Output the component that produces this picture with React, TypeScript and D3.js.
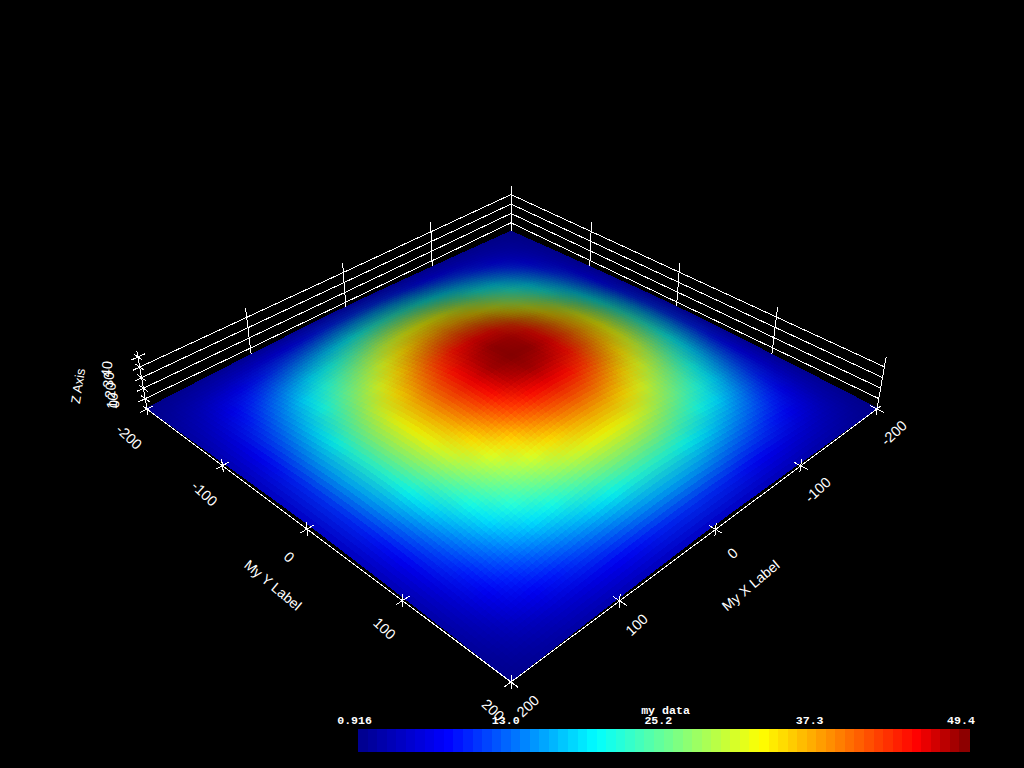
import React, { useMemo } from "react";
import * as d3 from "d3";

// Surface values, rows follow x = -200..200, columns y = -200..200 (step 20)
const gridX = [-200,-180,-160,-140,-120,-100,-80,-60,-40,-20,0,20,40,60,80,100,120,140,160,180,200];
const gridY = gridX;
const surfaceValues = [
[0.916,1.4,2.0,2.6,3.1,3.6,4.1,4.5,4.9,5.2,5.3,5.2,4.9,4.5,4.1,3.6,3.1,2.6,2.0,1.4,0.916],
[1.4,2.4,3.5,4.7,5.8,6.9,7.8,8.6,9.5,10.0,10.2,10.0,9.5,8.6,7.8,6.9,5.8,4.7,3.5,2.4,1.4],
[2.0,3.5,5.4,7.3,9.1,10.8,12.2,13.6,14.9,15.8,16.1,15.8,14.9,13.6,12.2,10.8,9.1,7.3,5.4,3.5,2.0],
[2.6,4.7,7.3,9.9,12.4,14.6,16.6,18.5,20.3,21.5,22.0,21.5,20.3,18.5,16.6,14.6,12.4,9.9,7.3,4.7,2.6],
[3.1,5.8,9.1,12.4,15.5,18.4,20.8,23.2,25.6,27.1,27.6,27.1,25.6,23.2,20.8,18.4,15.5,12.4,9.1,5.8,3.1],
[3.6,6.9,10.8,14.6,18.4,21.7,24.7,27.6,30.3,32.1,32.7,32.1,30.3,27.6,24.7,21.7,18.4,14.6,10.8,6.9,3.6],
[4.1,7.8,12.2,16.6,20.8,24.7,28.0,31.3,34.4,36.4,37.2,36.4,34.4,31.3,28.0,24.7,20.8,16.6,12.2,7.8,4.1],
[4.5,8.6,13.6,18.5,23.2,27.6,31.3,35.0,38.5,40.7,41.6,40.7,38.5,35.0,31.3,27.6,23.2,18.5,13.6,8.6,4.5],
[4.9,9.5,14.9,20.3,25.6,30.3,34.4,38.5,42.3,44.8,45.7,44.8,42.3,38.5,34.4,30.3,25.6,20.3,14.9,9.5,4.9],
[5.2,10.0,15.8,21.5,27.1,32.1,36.4,40.7,44.8,47.5,48.4,47.5,44.8,40.7,36.4,32.1,27.1,21.5,15.8,10.0,5.2],
[5.3,10.2,16.1,22.0,27.6,32.7,37.2,41.6,45.7,48.4,49.4,48.4,45.7,41.6,37.2,32.7,27.6,22.0,16.1,10.2,5.3],
[5.2,10.0,15.8,21.5,27.1,32.1,36.4,40.7,44.8,47.5,48.4,47.5,44.8,40.7,36.4,32.1,27.1,21.5,15.8,10.0,5.2],
[4.9,9.5,14.9,20.3,25.6,30.3,34.4,38.5,42.3,44.8,45.7,44.8,42.3,38.5,34.4,30.3,25.6,20.3,14.9,9.5,4.9],
[4.5,8.6,13.6,18.5,23.2,27.6,31.3,35.0,38.5,40.7,41.6,40.7,38.5,35.0,31.3,27.6,23.2,18.5,13.6,8.6,4.5],
[4.1,7.8,12.2,16.6,20.8,24.7,28.0,31.3,34.4,36.4,37.2,36.4,34.4,31.3,28.0,24.7,20.8,16.6,12.2,7.8,4.1],
[3.6,6.9,10.8,14.6,18.4,21.7,24.7,27.6,30.3,32.1,32.7,32.1,30.3,27.6,24.7,21.7,18.4,14.6,10.8,6.9,3.6],
[3.1,5.8,9.1,12.4,15.5,18.4,20.8,23.2,25.6,27.1,27.6,27.1,25.6,23.2,20.8,18.4,15.5,12.4,9.1,5.8,3.1],
[2.6,4.7,7.3,9.9,12.4,14.6,16.6,18.5,20.3,21.5,22.0,21.5,20.3,18.5,16.6,14.6,12.4,9.9,7.3,4.7,2.6],
[2.0,3.5,5.4,7.3,9.1,10.8,12.2,13.6,14.9,15.8,16.1,15.8,14.9,13.6,12.2,10.8,9.1,7.3,5.4,3.5,2.0],
[1.4,2.4,3.5,4.7,5.8,6.9,7.8,8.6,9.5,10.0,10.2,10.0,9.5,8.6,7.8,6.9,5.8,4.7,3.5,2.4,1.4],
[0.916,1.4,2.0,2.6,3.1,3.6,4.1,4.5,4.9,5.2,5.3,5.2,4.9,4.5,4.1,3.6,3.1,2.6,2.0,1.4,0.916],
];

const axisTicks = [-200, -100, 0, 100, 200];
const wallTicks = [-100, 0, 100];
const zTicks = [0, 10, 20, 30, 40];
const zGridTicks = [10, 20, 30, 40];
const zMax = 49.4;
const colorbarLabels = ["0.916", "13.0", "25.2", "37.3", "49.4"];
const colorbarValues = [0.916, 13.0, 25.2, 37.3, 49.4];
const jetStops = [0, 0.146, 0.39, 0.66, 0.915, 1];
const jetColors = ["#00008c", "#0000ff", "#00ffff", "#ffff00", "#ff0000", "#820000"];
const bandCount = 64;

const WHITE = "#fff";
const FONT = "'Liberation Sans', sans-serif";
const MONO = "'Liberation Mono', monospace";

// Ground plane corners on screen: back, left, front, right
const Q = [[511, 232], [147, 409], [511, 682], [877, 409]];
const VP = [511, 2500];

const makeProjection = () => {
  const [[x0, y0], [x1, y1], [x2, y2], [x3, y3]] = Q;
  const dx1 = x1 - x2, dx2 = x3 - x2, sx = x0 - x1 + x2 - x3;
  const dy1 = y1 - y2, dy2 = y3 - y2, sy = y0 - y1 + y2 - y3;
  const den = dx1 * dy2 - dx2 * dy1;
  const g = (sx * dy2 - dx2 * sy) / den;
  const h = (dx1 * sy - sx * dy1) / den;
  const a = x1 - x0 + g * x1, b = x3 - x0 + h * x3, c = x0;
  const d = y1 - y0 + g * y1, e = y3 - y0 + h * y3, f = y0;
  const lambda = (-0.02427 * (g + 1)) / zMax;
  const sScale = d3.scaleLinear().domain([-200, 200]).range([0, 1]);
  return (x: number, y: number, z: number): [number, number] => {
    const s = sScale(x), t = sScale(y);
    const w = g * s + h * t + 1 + z * lambda;
    return [
      (a * s + b * t + c + z * lambda * VP[0]) / w,
      (d * s + e * t + f + z * lambda * VP[1]) / w,
    ];
  };
};

export default function App() {
  const project = useMemo(makeProjection, []);
  const lineGen = useMemo(() => d3.line(), []);

  const jet = useMemo(
    () => d3.scaleLinear<string>().domain(jetStops).range(jetColors).clamp(true),
    []
  );
  const valueToT = useMemo(() => d3.scaleLinear().domain([0.916, 49.4]).range([0, 1]), []);

  const cells = useMemo(() => {
    const n = gridX.length;
    const L = [0.6, 0.6, 0.53];
    const vertexRgb = surfaceValues.map((row, i) =>
      row.map((v, j) => {
        const ip = Math.min(i + 1, n - 1), im = Math.max(i - 1, 0);
        const jp = Math.min(j + 1, n - 1), jm = Math.max(j - 1, 0);
        const vx = (surfaceValues[ip][j] - surfaceValues[im][j]) / (gridX[ip] - gridX[im]);
        const vy = (surfaceValues[i][jp] - surfaceValues[i][jm]) / (gridY[jp] - gridY[jm]);
        const norm = Math.hypot(vx, vy, 1);
        const lit = ((-vx * L[0] - vy * L[1] + L[2]) / norm) / L[2];
        const side = 1 - (0.4 * Math.abs(vx - vy)) / Math.SQRT2;
        const shade = Math.max(0, Math.min(1, lit)) * side;
        const c = d3.rgb(jet(valueToT(v)));
        return [c.r * shade, c.g * shade, c.b * shade];
      })
    );
    const k = 5;
    const out: { d: string; fill: string }[] = [];
    for (let i = 0; i < n - 1; i++) {
      for (let j = 0; j < n - 1; j++) {
        const v00 = surfaceValues[i][j], v10 = surfaceValues[i + 1][j];
        const v01 = surfaceValues[i][j + 1], v11 = surfaceValues[i + 1][j + 1];
        const bil = (a: number, b: number, c: number, e: number, u: number, w: number) =>
          a * (1 - u) * (1 - w) + b * u * (1 - w) + c * (1 - u) * w + e * u * w;
        const pt = (u: number, w: number) =>
          project(
            gridX[i] + (gridX[i + 1] - gridX[i]) * u,
            gridY[j] + (gridY[j + 1] - gridY[j]) * w,
            bil(v00, v10, v01, v11, u, w)
          );
        for (let a = 0; a < k; a++) {
          for (let b = 0; b < k; b++) {
            const u0 = a / k, u1 = (a + 1) / k, w0 = b / k, w1 = (b + 1) / k;
            const uc = (u0 + u1) / 2, wc = (w0 + w1) / 2;
            const rgb = [0, 1, 2].map((ch) =>
              bil(
                vertexRgb[i][j][ch],
                vertexRgb[i + 1][j][ch],
                vertexRgb[i][j + 1][ch],
                vertexRgb[i + 1][j + 1][ch],
                uc,
                wc
              )
            );
            const fill = `rgb(${rgb.map((q) => Math.round(q)).join(",")})`;
            const d = lineGen([pt(u0, w0), pt(u1, w0), pt(u1, w1), pt(u0, w1)])! + "Z";
            out.push({ d, fill });
          }
        }
      }
    }
    return out;
  }, [project, lineGen, jet, valueToT]);

  const seg = (a: [number, number, number], b: [number, number, number]) =>
    lineGen([project(a[0], a[1], a[2]), project(b[0], b[1], b[2])])!;

  // Walls sit behind the surface: x = -200 and y = -200
  const wallPaths: string[] = [];
  zGridTicks.forEach((z) => {
    wallPaths.push(seg([-200, -200, z], [-200, 200, z]));
    wallPaths.push(seg([-200, -200, z], [200, -200, z]));
  });
  wallPaths.push(seg([-200, -200, 0], [-200, 200, 0]));
  wallPaths.push(seg([-200, -200, 0], [200, -200, 0]));
  wallTicks.forEach((t) => {
    wallPaths.push(seg([t, -200, 0], [t, -200, zMax]));
    wallPaths.push(seg([-200, t, 0], [-200, t, zMax]));
  });
  wallPaths.push(seg([-200, -200, 0], [-200, -200, zMax]));
  wallPaths.push(seg([200, -200, 0], [200, -200, zMax]));
  wallPaths.push(seg([-200, 200, 0], [-200, 200, zMax]));

  // Front axes and their 3D tick crosses
  const frontPaths: string[] = [
    seg([200, -200, 0], [200, 200, 0]),
    seg([-200, 200, 0], [200, 200, 0]),
  ];
  const T = 6;
  const cross = (x: number, y: number, z: number) => {
    frontPaths.push(seg([x - T, y, z], [x + T, y, z]));
    frontPaths.push(seg([x, y - T, z], [x, y + T, z]));
    frontPaths.push(seg([x, y, z - T], [x, y, z + T]));
  };
  axisTicks.forEach((t) => {
    cross(t, 200, 0);
    if (t !== 200) cross(200, t, 0);
  });
  zTicks.forEach((z) => cross(200, -200, z));
  cross(200, -200, zMax);

  const label = (
    text: string,
    p: [number, number],
    dx: number,
    dy: number,
    rot: number,
    size = 14.5
  ) => (
    <text
      key={`${text}-${dx}-${p[1]}`}
      transform={`translate(${p[0] + dx},${p[1] + dy}) rotate(${rot})`}
      fill={WHITE}
      fontFamily={FONT}
      fontSize={size}
      textAnchor="middle"
      dominantBaseline="central"
    >
      {text}
    </text>
  );

  const barX = d3.scaleBand<number>().domain(d3.range(bandCount)).range([358, 969]);
  const barLabelX = d3.scaleLinear().domain([0.916, 49.4]).range([354.6, 961]);

  return (
    <svg
      width={1024}
      height={768}
      viewBox="0 0 1024 768"
      style={{ position: "absolute", left: 0, top: 0, display: "block", background: "#000" }}
    >
      <rect x={0} y={0} width={1024} height={768} fill="#000" />
      <g stroke={WHITE} strokeWidth={1} fill="none" shapeRendering="crispEdges">
        {wallPaths.map((d, i) => (
          <path key={i} d={d} />
        ))}
      </g>
      <g shapeRendering="crispEdges">
        {cells.map((c, i) => (
          <path key={i} d={c.d} fill={c.fill} stroke={c.fill} strokeWidth={1} />
        ))}
      </g>
      <g stroke={WHITE} strokeWidth={1} fill="none" shapeRendering="crispEdges">
        {frontPaths.map((d, i) => (
          <path key={i} d={d} />
        ))}
      </g>
      {axisTicks.map((t) => label(String(t), project(200, t, 0), -18, 28, 43))}
      {axisTicks.map((t) => label(String(t), project(t, 200, 0), 17, 24, -43))}
      {label("My Y Label", project(200, 0, 0), -34, 56, 40, 14)}
      {label("My X Label", project(0, 200, 0), 35, 56, -40, 14)}
      {zTicks.map((z) => label(String(z), project(200, -200, z), -33, z === 0 ? -5 : 2, -85))}
      {label("Z Axis", [78, 386], 0, 0, -81, 13)}
      {d3.range(bandCount).map((i) => (
        <rect
          key={i}
          x={barX(i)}
          y={729}
          width={barX.bandwidth() + 0.5}
          height={23}
          fill={jet((i + 0.5) / bandCount)}
          shapeRendering="crispEdges"
        />
      ))}
      {colorbarValues.map((v, i) => (
        <text
          key={v}
          x={barLabelX(v)}
          y={724}
          fill={WHITE}
          fontFamily={MONO}
          fontWeight="bold"
          fontSize={11.6}
          textAnchor="middle"
        >
          {colorbarLabels[i]}
        </text>
      ))}
      <text
        x={665.5}
        y={714}
        fill={WHITE}
        fontFamily={MONO}
        fontWeight="bold"
        fontSize={11.6}
        textAnchor="middle"
      >
        my data
      </text>
    </svg>
  );
}
